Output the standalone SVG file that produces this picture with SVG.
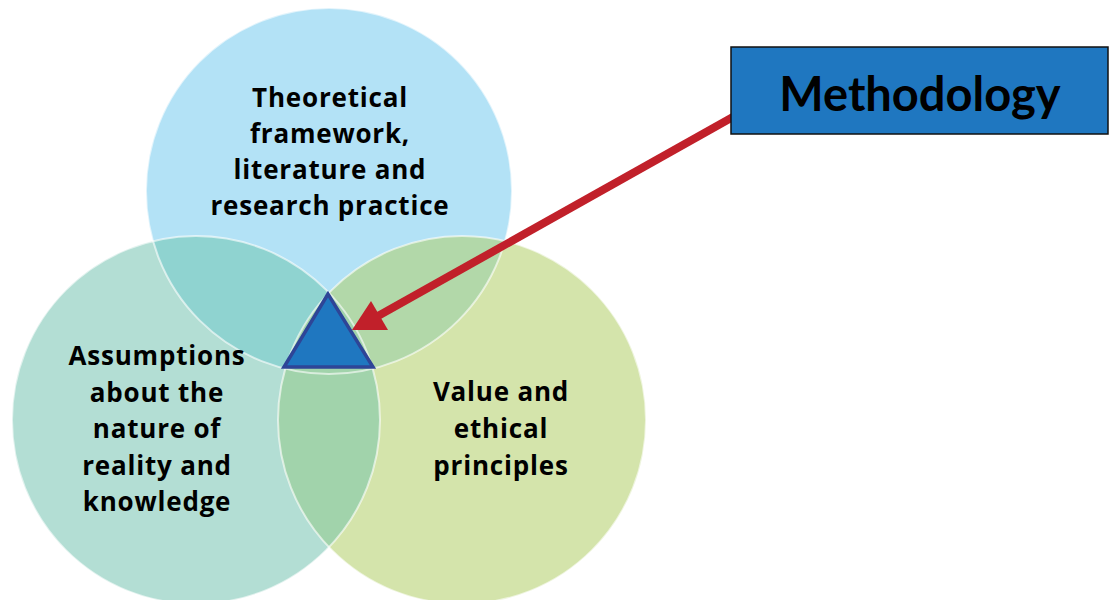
<svg xmlns="http://www.w3.org/2000/svg" width="1114" height="600" viewBox="0 0 1114 600">
<style>
.lbl{font-family:"Open Sans",Lato,"Liberation Sans",sans-serif;font-weight:bold;font-size:26px;letter-spacing:0.8px;fill:#000;text-anchor:middle}
.ring{fill:none;stroke:#ffffff;stroke-opacity:0.6;stroke-width:2}
.title{font-family:Lato,"Open Sans","Liberation Sans",sans-serif;font-weight:bold;font-size:47px;fill:#000;text-anchor:middle}
</style>
<defs>
<clipPath id="cT"><circle cx="329" cy="191" r="183"/></clipPath>
<clipPath id="cL"><circle cx="196" cy="420" r="184"/></clipPath>
<clipPath id="cR"><circle cx="462" cy="420" r="184"/></clipPath>
</defs>
<rect width="1114" height="600" fill="#ffffff"/>
<g id="circle-theory">
<circle cx="329" cy="191" r="183" fill="#b3e2f6"/>
</g>
<g id="circle-assumptions">
<circle cx="196" cy="420" r="184" fill="#b3ded4"/>
</g>
<g id="circle-values">
<circle cx="462" cy="420" r="184" fill="#d4e4ab"/>
</g>
<g id="overlaps">
<g clip-path="url(#cT)"><circle cx="196" cy="420" r="184" fill="#8fd3d0"/></g>
<g clip-path="url(#cT)"><circle cx="462" cy="420" r="184" fill="#b2d8a9"/></g>
<g clip-path="url(#cL)"><circle cx="462" cy="420" r="184" fill="#a1d3ab"/></g>
<circle class="ring" cx="329" cy="191" r="183"/>
<circle class="ring" cx="196" cy="420" r="184"/>
<circle class="ring" cx="462" cy="420" r="184"/>
</g>
<g id="label-theory">
<text class="lbl" x="330" y="107">Theoretical</text>
<text class="lbl" x="330" y="143">framework,</text>
<text class="lbl" x="330" y="179">literature and</text>
<text class="lbl" x="330" y="215">research practice</text>
</g>
<g id="label-assumptions">
<text class="lbl" x="157" y="365">Assumptions</text>
<text class="lbl" x="157" y="402">about the</text>
<text class="lbl" x="157" y="438">nature of</text>
<text class="lbl" x="157" y="475">reality and</text>
<text class="lbl" x="157" y="511">knowledge</text>
</g>
<g id="label-values">
<text class="lbl" x="501" y="401">Value and</text>
<text class="lbl" x="501" y="438">ethical</text>
<text class="lbl" x="501" y="475">principles</text>
</g>
<g id="triangle-methodology">
<polygon points="328,294 284,367 373,367" fill="#1f77c0" stroke="#2e4597" stroke-width="3.5" stroke-linejoin="miter"/>
</g>
<g id="connectors">
<line x1="740" y1="113" x2="378" y2="316" stroke="#c1202a" stroke-width="8"/>
<polygon points="352,330 371,301 388,330" fill="#c1202a"/>
</g>
<g id="node-methodology">
<rect x="731" y="47" width="377" height="87" fill="#1f77c0" stroke="#111111" stroke-width="1.5"/>
<text class="title" x="920" y="111">Methodology</text>
</g>
</svg>
